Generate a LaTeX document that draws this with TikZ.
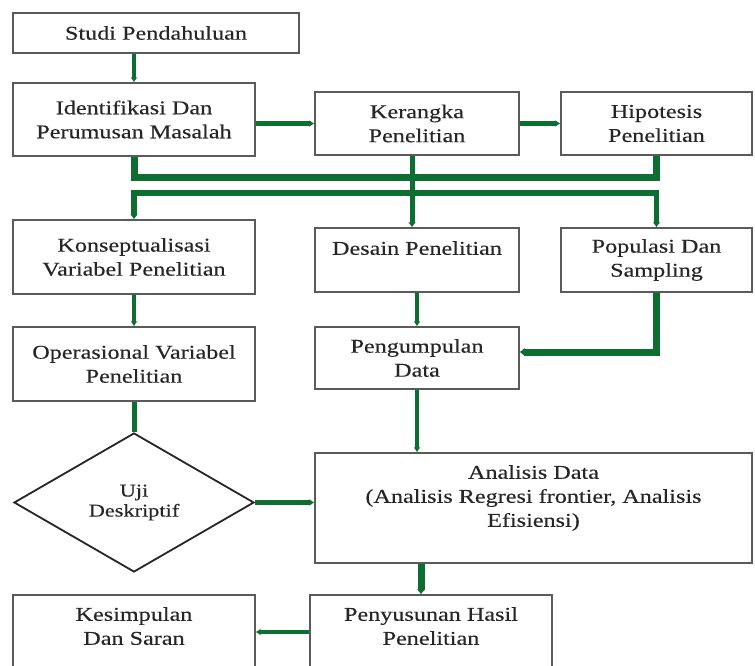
\documentclass[tikz,border=0pt]{standalone}
\usepackage{fontspec}
\setmainfont{Liberation Serif}[FakeStretch=1.24,FakeBold=0.25]
\usetikzlibrary{arrows.meta,shapes.geometric,calc}
\definecolor{lgreen}{HTML}{0C6E30}
\definecolor{boxgray}{HTML}{5A5A5A}
\definecolor{txtgray}{HTML}{262626}
\begin{document}
\begin{tikzpicture}[x=1pt,y=-1pt,
  box/.style={draw=boxgray, line width=1.4pt, text=txtgray, align=center, inner sep=0pt,
              font=\fontsize{19.5}{24}\selectfont},
  conn/.style={draw=lgreen, line width=4.5pt, -{Latex[length=5pt,width=7pt]}},
  thickbus/.style={draw=lgreen, line width=7pt, line join=miter},
  midbus/.style={draw=lgreen, line width=5.5pt, line join=miter, {Latex[length=5pt,width=8pt]}-{Latex[length=5pt,width=8pt]}},
  thickconn/.style={draw=lgreen, line width=7pt, line join=miter, -{Latex[length=5pt,width=9pt]}}
]
\useasboundingbox (0,0) rectangle (755,666);
\clip (0,0) rectangle (755,666);
\fill[white] (0,0) rectangle (755,666);

\node[box, minimum width=286pt, minimum height=40pt] (studi) at (156,33) {Studi Pendahuluan};
\node[box, minimum width=242pt, minimum height=73pt] (iden) at (134,119.5) {Identifikasi Dan\\Perumusan Masalah};
\node[box, minimum width=204pt, minimum height=63pt] (ker) at (417,123.5) {Kerangka\\Penelitian};
\node[box, minimum width=191pt, minimum height=63pt] (hip) at (656.5,123.5) {Hipotesis\\Penelitian};
\node[box, minimum width=242pt, minimum height=74pt] (kon) at (134,257) {Konseptualisasi\\Variabel Penelitian};
\node[box, minimum width=204pt, minimum height=64pt] (des) at (417,260) {Desain Penelitian\\\phantom{X}};
\node[box, minimum width=191pt, minimum height=64pt] (pop) at (656.5,260) {Populasi Dan\\Sampling};
\node[box, minimum width=242pt, minimum height=74pt] (ope) at (134,364) {Operasional Variabel\\Penelitian};
\node[box, minimum width=204pt, minimum height=62pt] (peng) at (417,358) {Pengumpulan\\Data};
\node[box, shape=diamond, draw=black!85, line width=1.8pt, minimum width=240pt, minimum height=139pt,
      font=\fontsize{18}{20}\selectfont] (dia) at (134,502.5) {Uji\\Deskriptif};
\node[box, minimum width=437pt, minimum height=110pt] (ana) at (533.5,508) {Analisis Data\\(Analisis Regresi frontier, Analisis\\Efisiensi)\\\phantom{X}};
\node[box, minimum width=242pt, minimum height=86pt] (pen) at (431,638) {Penyusunan Hasil\\Penelitian\\\phantom{X}};
\node[box, minimum width=242pt, minimum height=86pt] (kes) at (134,638) {Kesimpulan\\Dan Saran\\\phantom{X}};

\coordinate (b1) at (0,177);
\coordinate (b2) at (0,193);

\draw[conn] (studi.south -| iden.north) -- (iden.north);
\draw[conn] (iden.east |- ker.west) -- (ker.west);
\draw[conn] (ker.east) -- (hip.west);
\draw[thickbus] (iden.south) -- (iden.south |- b1) -| (hip.south);
\draw[midbus] (kon.north) -- (kon.north |- b2) -| (pop.north);
\draw[draw=lgreen, line width=5pt, -{Latex[length=5pt,width=8pt]}] ([xshift=-5pt]ker.south) -- ([xshift=-5pt]ker.south |- des.north);
\draw[conn] (kon.south) -- (ope.north);
\draw[conn] (des.south) -- (peng.north);
\draw[thickconn] (pop.south) |- ([yshift=6pt]peng.east);
\draw[draw=lgreen, line width=5pt] (ope.south) -- (dia.north);
\draw[conn] (peng.south) -- (peng.south |- ana.north);
\draw[conn] (dia.east) -- (dia.east -| ana.west);
\draw[thickconn] ([xshift=-10pt]pen.north |- ana.south) -- ([xshift=-10pt]pen.north);
\draw[conn] ([yshift=6pt]pen.west) -- ([yshift=6pt]pen.west -| kes.east);
\end{tikzpicture}
\end{document}
